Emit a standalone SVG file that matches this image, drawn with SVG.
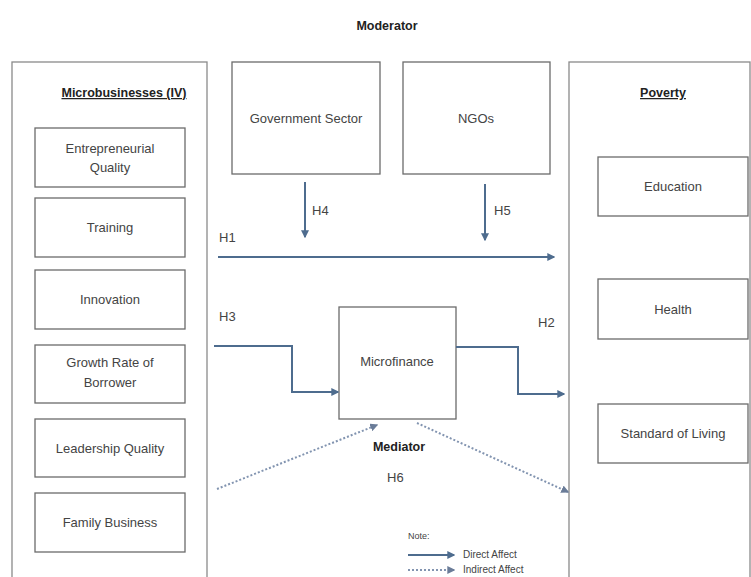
<svg xmlns="http://www.w3.org/2000/svg" width="751" height="577" viewBox="0 0 751 577">
<defs>
<style>
.box{fill:#fff;stroke:#6b6b6b;stroke-width:1.3}
.big{fill:#fff;stroke:#8a8a8a;stroke-width:1.3}
.t{font-family:"Liberation Sans",Arial,sans-serif;font-size:13px;fill:#444;text-anchor:middle}
.h{font-family:"Liberation Sans",Arial,sans-serif;font-size:12.5px;fill:#222;font-weight:bold;text-anchor:middle}
.lbl{font-family:"Liberation Sans",Arial,sans-serif;font-size:13px;fill:#444}
.d{fill:none;stroke:#4e6c8e;stroke-width:2}
.i{fill:none;stroke:#8294b0;stroke-width:2;stroke-dasharray:2 2}
</style>
<marker id="ah" viewBox="0 0 6 6" refX="5" refY="3" markerWidth="4" markerHeight="4" orient="auto"><path d="M0,0L6,3L0,6z" fill="#4e6c8e"/></marker>
<marker id="ai" viewBox="0 0 6 6" refX="5" refY="3" markerWidth="4" markerHeight="4" orient="auto"><path d="M0,0L6,3L0,6z" fill="#6a7c98"/></marker>
</defs>
<rect width="751" height="577" fill="#fff"/>
<text class="h" x="387" y="30">Moderator</text>

<g id="microbusinesses">
<rect class="big" x="12" y="62" width="195" height="520"/>
<text class="h" x="124" y="97" text-decoration="underline">Microbusinesses (IV)</text>
</g>
<g id="entrepreneurial"><rect class="box" x="35" y="128" width="150" height="59"/><text class="t" x="110" y="153">Entrepreneurial</text><text class="t" x="110" y="172">Quality</text></g>
<g id="training"><rect class="box" x="35" y="198" width="150" height="59"/><text class="t" x="110" y="232">Training</text></g>
<g id="innovation"><rect class="box" x="35" y="270" width="150" height="59"/><text class="t" x="110" y="304">Innovation</text></g>
<g id="growth"><rect class="box" x="35" y="345" width="150" height="58"/><text class="t" x="110" y="367">Growth Rate of</text><text class="t" x="110" y="387">Borrower</text></g>
<g id="leadership"><rect class="box" x="35" y="419" width="150" height="58"/><text class="t" x="110" y="453">Leadership Quality</text></g>
<g id="family"><rect class="box" x="35" y="493" width="150" height="59"/><text class="t" x="110" y="527">Family Business</text></g>

<g id="government"><rect class="box" x="232" y="62" width="148" height="112"/><text class="t" x="306" y="123">Government Sector</text></g>
<g id="ngos"><rect class="box" x="403" y="62" width="147" height="112"/><text class="t" x="476" y="123">NGOs</text></g>

<g id="poverty">
<rect class="big" x="569" y="62" width="181" height="520"/>
<text class="h" x="663" y="97" text-decoration="underline">Poverty</text>
</g>
<g id="education"><rect class="box" x="598" y="157" width="150" height="59"/><text class="t" x="673" y="191">Education</text></g>
<g id="health"><rect class="box" x="598" y="279" width="150" height="60"/><text class="t" x="673" y="314">Health</text></g>
<g id="living"><rect class="box" x="598" y="404" width="150" height="59"/><text class="t" x="673" y="438">Standard of Living</text></g>

<g id="microfinance"><rect class="box" x="339" y="307" width="117" height="112"/><text class="t" x="397" y="366">Microfinance</text></g>
<text class="h" x="399" y="451">Mediator</text>
<text class="lbl" x="387" y="482">H6</text>

<g id="connectors">
<path class="d" d="M305,182V237" marker-end="url(#ah)"/>
<path class="d" d="M485,184V240" marker-end="url(#ah)"/>
<path class="d" d="M218,257H554" marker-end="url(#ah)"/>
<path class="d" d="M214,346H292V392H338" marker-end="url(#ah)"/>
<path class="d" d="M456,347H518V394H564" marker-end="url(#ah)"/>
<path class="i" d="M217,489L377,425" marker-end="url(#ai)"/>
<path class="i" d="M417,423L568,492" marker-end="url(#ai)"/>
<path class="d" d="M408,555H454" marker-end="url(#ah)"/>
<path class="i" d="M408,570H454" marker-end="url(#ai)"/>
</g>
<text class="lbl" x="312" y="215">H4</text>
<text class="lbl" x="494" y="215">H5</text>
<text class="lbl" x="219" y="242">H1</text>
<text class="lbl" x="219" y="321">H3</text>
<text class="lbl" x="538" y="327">H2</text>
<text class="lbl" x="408" y="539" style="font-size:9px">Note:</text>
<text class="lbl" x="463" y="558" style="font-size:10px">Direct Affect</text>
<text class="lbl" x="463" y="573" style="font-size:10px">Indirect Affect</text>
</svg>
